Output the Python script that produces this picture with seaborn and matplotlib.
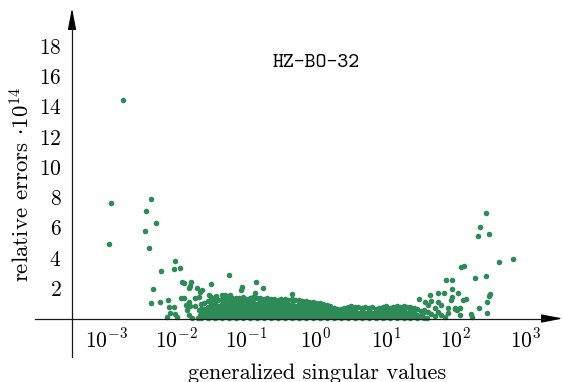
import matplotlib
matplotlib.use("Agg")
import matplotlib.pyplot as plt
import numpy as np
import pandas as pd
import seaborn as sns

# ---------------- data ----------------
# isolated points: log10(generalized singular value), relative error * 1e14
sparse_logx = [-2.96, -2.94, -2.76, -2.45, -2.43, -2.39, -2.36, -2.30,
               -2.34, -2.37, -2.24, -2.22, -2.12, -2.11, -2.09, -2.13, -2.04, -2.02,
               -1.99, -2.04, -1.95, -2.02, -1.92, -1.89, -1.82, -1.80, -1.79, -1.71,
               -1.66, -1.64, -1.50, -1.25, -1.94, -1.89, -1.82, -1.80, -1.87, -1.85,
               -1.82, -1.78, -1.73, -1.68, -1.68, -1.66, -1.69, -1.73, -1.54, -1.51,
               -1.44, -1.35, -1.30, -1.23, -1.06, -1.07, -0.86, -0.76, -0.87, -0.35,
               1.47, 1.56, 1.63, 1.64, 1.60, 1.60, 1.65, 1.74, 1.75, 1.83, 1.79, 1.79,
               1.84, 1.86, 1.94, 1.95, 1.95, 1.93, 1.89, 1.89, 2.03, 2.06, 2.01, 2.06,
               2.14, 2.07, 2.12, 2.27, 2.43, 2.33, 2.21, 2.23, 2.44, 2.44, 2.49, 2.48,
               2.32, 2.35, 2.43, 2.48, 2.62, 2.82, 1.70, 1.55, 1.70, 1.98, 1.52, 1.58,
               1.75, 2.10, 1.99]
sparse_err = [4.89, 7.63, 14.45, 5.79, 7.10, 4.65, 7.91, 6.30,
              1.93, 1.05, 1.07, 3.14, 1.22, 0.78, 0.34, 0.12, 0.78, 0.28,
              0.12, 3.27, 3.34, 3.79, 2.43, 2.33, 2.00, 2.17, 2.42, 2.04,
              1.77, 1.89, 2.28, 2.87, 1.33, 1.33, 1.11, 0.85, 0.89, 0.56,
              0.23, 0.01, 1.33, 1.44, 0.56, 0.23, 0.01, 0.83, 1.55, 1.42,
              1.50, 1.52, 1.55, 1.56, 2.10, 1.86, 2.44, 2.02, 1.71, 1.60,
              1.31, 1.07, 1.55, 1.16, 0.89, 0.45, 0.28, 1.11, 1.70, 1.66, 0.89, 0.23,
              0.12, 2.54, 2.54, 1.93, 1.44, 1.22, 0.67, 0.38, 1.67, 0.71, 0.56, 0.23,
              1.27, 3.43, 3.45, 2.70, 2.79, 0.72, 0.30, 0.12, 0.34, 1.07, 1.60, 1.50,
              5.48, 6.04, 7.00, 5.60, 3.70, 3.94, 0.70, 0.55, 0.15, 0.63, 0.20, 0.05,
              0.40, 1.22, 0.67]

# dense band: one column per x position, errors listed per column
band_logx = [-1.65, -1.60, -1.55, -1.50, -1.45, -1.40, -1.35, -1.30, -1.25, -1.20,
             -1.15, -1.10, -1.05, -1.00, -0.95, -0.90, -0.85, -0.80, -0.75, -0.70,
             -0.65, -0.60, -0.55, -0.50, -0.45, -0.40, -0.35, -0.30, -0.25, -0.20,
             -0.15, -0.10, -0.05, 0.00, 0.05, 0.10, 0.15, 0.20, 0.25, 0.30,
             0.35, 0.40, 0.45, 0.50, 0.55, 0.60, 0.65, 0.70, 0.75, 0.80,
             0.85, 0.90, 0.95, 1.00, 1.05, 1.10, 1.15, 1.20, 1.25, 1.30,
             1.35, 1.40, 1.45, 1.50, 1.55]
band_err = [
    "0.03 0.30 0.62 0.95", "0.14 0.38 0.66 1.05", "0.02 0.27 0.51 0.76 1.15",
    "0.12 0.36 0.60 0.86 1.20", "0.03 0.26 0.49 0.75 0.99 1.25", "0.13 0.38 0.62 0.85 1.22",
    "0.02 0.25 0.50 0.73 0.98 1.30", "0.14 0.37 0.60 0.86 1.10 1.35", "0.03 0.27 0.51 0.74 0.97 1.28",
    "0.12 0.36 0.62 0.85 1.08 1.33", "0.02 0.26 0.49 0.73 0.99 1.22 1.38", "0.13 0.38 0.61 0.84 1.10 1.35",
    "0.03 0.25 0.50 0.75 0.98 1.21 1.40", "0.14 0.37 0.60 0.86 1.09 1.32", "0.02 0.27 0.51 0.74 0.97 1.20 1.38",
    "0.12 0.36 0.62 0.85 1.08 1.30 1.42", "0.03 0.26 0.49 0.73 0.99 1.34", "0.13 0.38 0.61 0.84 1.10 1.37",
    "0.02 0.25 0.50 0.75 0.98 1.30", "0.14 0.37 0.60 0.86 1.09 1.35", "0.03 0.27 0.51 0.74 0.97 1.28",
    "0.12 0.36 0.62 0.85 1.08 1.32", "0.02 0.26 0.49 0.73 0.99 1.25", "0.13 0.38 0.61 0.84 1.10 1.30",
    "0.03 0.25 0.50 0.75 0.98 1.27", "0.14 0.37 0.60 0.86 1.22", "0.02 0.27 0.51 0.74 0.97 1.30",
    "0.12 0.36 0.62 0.85 1.20", "0.03 0.26 0.49 0.73 0.99 1.24", "0.13 0.38 0.61 0.84 1.15",
    "0.02 0.25 0.50 0.75 0.98 1.18", "0.14 0.37 0.60 0.86 1.10", "0.03 0.27 0.51 0.74 0.97 1.12",
    "0.12 0.36 0.62 0.85 1.05", "0.02 0.26 0.49 0.73 1.00", "0.13 0.38 0.61 0.95",
    "0.03 0.25 0.50 0.72 0.88", "0.14 0.37 0.60 0.80", "0.02 0.27 0.51 0.70",
    "0.12 0.36 0.62", "0.03 0.26 0.49 0.65", "0.13 0.38 0.72",
    "0.02 0.25 0.50 0.78", "0.14 0.37 0.60 0.82", "0.03 0.27 0.51 0.75",
    "0.12 0.36 0.78", "0.02 0.26 0.49 0.72", "0.13 0.38 0.76",
    "0.03 0.25 0.50 0.68", "0.14 0.37 0.74", "0.02 0.27 0.51 0.66",
    "0.12 0.36 0.70", "0.03 0.26 0.49 0.74", "0.13 0.38 0.61 0.80",
    "0.02 0.25 0.50 0.72", "0.14 0.37 0.60 0.78", "0.03 0.27 0.51 0.84",
    "0.12 0.36 0.62 0.76", "0.02 0.26 0.49 0.82", "0.13 0.38 0.74",
    "0.03 0.25 0.50 0.78", "0.14 0.37 0.70", "0.02 0.26 0.62",
    "0.12 0.50", "0.04 0.40"]

x_ticks = [1e-3, 1e-2, 1e-1, 1e0, 1e1, 1e2, 1e3]
x_ticklabels = [r"$10^{-3}$", r"$10^{-2}$", r"$10^{-1}$", r"$10^{0}$",
                r"$10^{1}$", r"$10^{2}$", r"$10^{3}$"]
y_ticks = [2, 4, 6, 8, 10, 12, 14, 16, 18]

title_text = "HZ-BO-32"
xlabel_text = "generalized singular values"
ylabel_text = r"relative errors $\cdot 10^{14}$"

# ---------------- build table ----------------
lx, er = list(sparse_logx), list(sparse_err)
for xv, col in zip(band_logx, band_err):
    for v in col.split():
        lx.append(xv)
        er.append(float(v))
df = pd.DataFrame({"sv": np.power(10.0, lx), "err": er})

# ---------------- styling ----------------
sns.set_theme(style="white")
plt.rcParams["mathtext.fontset"] = "cm"
plt.rcParams["font.family"] = ["cmr10", "DejaVu Serif"]
plt.rcParams["axes.formatter.use_mathtext"] = True

W, H = 563, 382
fig = plt.figure(figsize=(W / 100, H / 100), dpi=100)
ax_l, ax_r, ax_t, ax_b = 35, 545, 27, 357
ax = fig.add_axes([ax_l / W, 1 - ax_b / H, (ax_r - ax_l) / W, (ax_b - ax_t) / H])

green = "#2e8b57"
sns.scatterplot(data=df, x="sv", y="err", color=green, s=16, linewidth=0,
                ax=ax, legend=False, zorder=1)

ax.set_xscale("log")
px0, dec = 316.2, 69.85
ax.set_xlim(10 ** ((ax_l - px0) / dec), 10 ** ((ax_r - px0) / dec))
py0, unit = 318.5, 15.14
ax.set_ylim(-(ax_b - py0) / unit, (py0 - ax_t) / unit)

xcross = 10 ** ((72 - px0) / dec)
ax.spines["left"].set_position(("data", xcross))
ax.spines["bottom"].set_position(("data", 0))
ax.spines["top"].set_visible(False)
ax.spines["right"].set_visible(False)
for s in ("left", "bottom"):
    ax.spines[s].set_color("#1a1a1a")
    ax.spines[s].set_linewidth(0.9)
    ax.spines[s].set_zorder(3)

ax.set_xticks(x_ticks)
ax.set_xticklabels(x_ticklabels)
ax.xaxis.set_minor_locator(matplotlib.ticker.NullLocator())
ax.set_yticks(y_ticks)
ax.set_yticklabels([rf"${v}$" for v in y_ticks])
ax.tick_params(axis="both", which="major", direction="inout", length=7, width=0.9,
               color="#1a1a1a", labelsize=15.5, labelcolor="black")
ax.tick_params(axis="x", pad=3)
ax.tick_params(axis="y", pad=4)
ax.grid(False)

ax.set_xlabel(xlabel_text, fontsize=16, color="black")
ax.xaxis.label.set_va("center")
ax.xaxis.set_label_coords((317 - ax_l) / (ax_r - ax_l), (ax_b - 373) / (ax_b - ax_t))
ax.set_ylabel(ylabel_text, fontsize=16.5, color="black")
ax.yaxis.label.set_va("center")
ax.yaxis.set_label_coords((21.5 - ax_l) / (ax_r - ax_l), (ax_b - 184) / (ax_b - ax_t))

ax.text((316 - ax_l) / (ax_r - ax_l), (ax_b - 63) / (ax_b - ax_t), title_text,
        transform=ax.transAxes, ha="center", va="center", fontsize=15,
        fontfamily=["cmtt10", "DejaVu Sans Mono"], color="black")

# axis arrow heads
arrow = dict(arrowstyle="-|>,head_length=1.3,head_width=0.25", color="black",
             lw=0.9, shrinkA=0, shrinkB=0, mutation_scale=10)
ax.annotate("", xy=(1 + 18 / (ax_r - ax_l), 0), xytext=(1, 0),
            xycoords=ax.get_yaxis_transform(), textcoords=ax.get_yaxis_transform(),
            arrowprops=arrow, annotation_clip=False)
ax.annotate("", xy=(xcross, 1 + 19 / (ax_b - ax_t)), xytext=(xcross, 1),
            xycoords=ax.get_xaxis_transform(), textcoords=ax.get_xaxis_transform(),
            arrowprops=arrow, annotation_clip=False)

fig.savefig("out.png", dpi=100)
